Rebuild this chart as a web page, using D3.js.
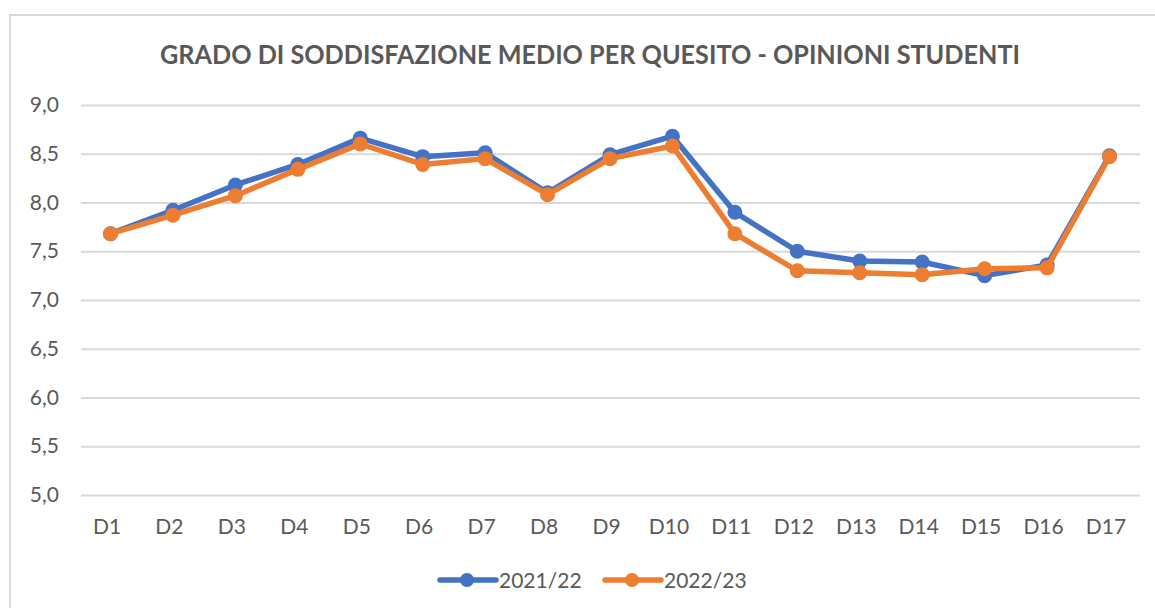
<!DOCTYPE html>
<html>
<head>
<meta charset="utf-8">
<script src="https://d3js.org/d3.v7.min.js"></script>
<style>
  body { margin: 0; background: #fff; }
  text { font-family: Lato, "Open Sans", sans-serif; fill: #595959; }
</style>
</head>
<body>
<div id="chart"></div>
<script>
// categories and series values
var categories = ["D1","D2","D3","D4","D5","D6","D7","D8","D9","D10","D11","D12","D13","D14","D15","D16","D17"];
var values2122 = [7.68, 7.92, 8.18, 8.39, 8.66, 8.47, 8.51, 8.10, 8.49, 8.68, 7.90, 7.50, 7.40, 7.39, 7.25, 7.36, 8.48];
var values2223 = [7.68, 7.87, 8.07, 8.34, 8.60, 8.39, 8.45, 8.08, 8.45, 8.58, 7.68, 7.30, 7.28, 7.26, 7.32, 7.33, 8.47];
var yTicks = [5.0, 5.5, 6.0, 6.5, 7.0, 7.5, 8.0, 8.5, 9.0];
var seriesNames = ["2021/22", "2022/23"];
var seriesColors = ["#4472C4", "#ED7D31"];

var W = 1155, H = 608;
var plotLeft = 81, plotRight = 1140, plotTop = 105, plotBottom = 495;

var svg = d3.select("#chart").append("svg")
    .attr("width", W)
    .attr("height", H);

// chart frame (only top and left edges are visible in the picture)
svg.append("path")
    .attr("d", "M10,608 V15 H1155")
    .attr("fill", "none")
    .attr("stroke", "#d9d9d9")
    .attr("stroke-width", 2);

// title
svg.append("text")
    .attr("x", 590)
    .attr("y", 64)
    .attr("text-anchor", "middle")
    .attr("textLength", 860)
    .attr("lengthAdjust", "spacingAndGlyphs")
    .style("font-size", "27px")
    .style("font-weight", "bold")
    .text("GRADO DI SODDISFAZIONE MEDIO PER QUESITO - OPINIONI STUDENTI");

var x = d3.scalePoint()
    .domain(categories)
    .range([110.5, 1109.5]);

var y = d3.scaleLinear()
    .domain([5, 9])
    .range([plotBottom, plotTop]);

// Y axis with gridlines
var yAxis = svg.append("g")
    .attr("transform", "translate(" + plotLeft + ",0)")
    .call(d3.axisLeft(y)
        .tickValues(yTicks)
        .tickSize(-(plotRight - plotLeft))
        .tickPadding(22)
        .tickFormat(function(d) { return d.toFixed(1).replace(".", ","); }));
yAxis.select(".domain").remove();
yAxis.selectAll("line").attr("stroke", "#d9d9d9").attr("stroke-width", 2);
yAxis.selectAll("text").style("font-size", "21px").attr("fill", "#595959");

// X axis labels (sit a few px left of the markers, as in the picture)
var xAxis = svg.append("g")
    .attr("transform", "translate(-4," + plotBottom + ")")
    .call(d3.axisBottom(x).tickSize(0).tickPadding(24));
xAxis.select(".domain").remove();
xAxis.selectAll("text").style("font-size", "21px").attr("fill", "#595959");

// lines and markers
var series = [values2122, values2223];
var line = d3.line()
    .x(function(d, i) { return x(categories[i]); })
    .y(function(d) { return y(d); });

series.forEach(function(vals, s) {
    svg.append("path")
        .datum(vals)
        .attr("fill", "none")
        .attr("stroke", seriesColors[s])
        .attr("stroke-width", 5.5)
        .attr("stroke-linejoin", "round")
        .attr("d", line);
    svg.append("g")
        .selectAll("circle")
        .data(vals)
        .enter()
        .append("circle")
          .attr("cx", function(d, i) { return x(categories[i]); })
          .attr("cy", function(d) { return y(d); })
          .attr("r", 7.5)
          .attr("fill", seriesColors[s]);
});

// legend
var legendX = [440, 605];
var legend = svg.append("g");
seriesNames.forEach(function(name, s) {
    var lx = legendX[s];
    legend.append("line")
        .attr("x1", lx).attr("x2", lx + 56)
        .attr("y1", 580).attr("y2", 580)
        .attr("stroke", seriesColors[s])
        .attr("stroke-width", 5.5)
        .attr("stroke-linecap", "round");
    legend.append("circle")
        .attr("cx", lx + 27).attr("cy", 580)
        .attr("r", 7)
        .attr("fill", seriesColors[s]);
    legend.append("text")
        .attr("x", lx + 59)
        .attr("y", 580)
        .attr("dy", "0.36em")
        .style("font-size", "21px")
        .text(name);
});
</script>
</body>
</html>
